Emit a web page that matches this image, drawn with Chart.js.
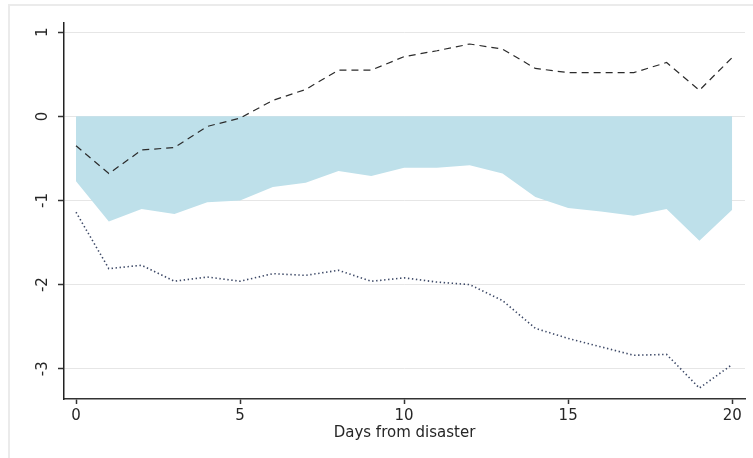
<!DOCTYPE html>
<html>
<head>
<meta charset="utf-8">
<script src="https://cdn.jsdelivr.net/npm/chart.js@4/dist/chart.umd.min.js"></script>
<style>
  html, body { margin: 0; padding: 0; background: #ffffff; }
  #wrap { width: 753px; height: 458px; position: relative; }
</style>
</head>
<body>
<div id="wrap"><canvas id="c" width="753" height="458"></canvas></div>
<script>
// Days after the disaster
const days = [0, 1, 2, 3, 4, 5, 6, 7, 8, 9, 10, 11, 12, 13, 14, 15, 16, 17, 18, 19, 20];
// Point estimate (shaded area down from zero)
const estimate = [-0.77, -1.25, -1.10, -1.16, -1.02, -1.00, -0.84, -0.79, -0.65, -0.71, -0.61,
                  -0.61, -0.58, -0.68, -0.96, -1.09, -1.13, -1.18, -1.10, -1.48, -1.11];
// Upper confidence bound (dashed)
const upperBound = [-0.35, -0.68, -0.40, -0.37, -0.12, -0.02, 0.19, 0.32, 0.55, 0.55, 0.71,
                    0.78, 0.86, 0.80, 0.57, 0.52, 0.52, 0.52, 0.64, 0.31, 0.70];
// Lower confidence bound (dotted)
const lowerBound = [-1.14, -1.81, -1.77, -1.96, -1.91, -1.96, -1.87, -1.89, -1.83, -1.96, -1.92,
                    -1.97, -2.00, -2.19, -2.52, -2.64, -2.74, -2.84, -2.83, -3.23, -2.95];
// Axis ticks
const xTicks = [0, 5, 10, 15, 20];
const yTicks = [-3, -2, -1, 0, 1];
const xTitle = 'Days from disaster';

const pts = arr => days.map((d, i) => ({ x: d, y: arr[i] }));
const FONT = 'DejaVu Sans';
const TEXT = '#262626';

// light frame around the graph region
const framePlugin = {
  id: 'frame',
  beforeDraw(chart) {
    const ctx = chart.ctx;
    ctx.save();
    ctx.strokeStyle = '#ebebeb';
    ctx.lineWidth = 2;
    ctx.beginPath();
    ctx.moveTo(9, chart.height);
    ctx.lineTo(9, 5);
    ctx.lineTo(chart.width, 5);
    ctx.stroke();
    ctx.restore();
  }
};

new Chart(document.getElementById('c'), {
  type: 'line',
  data: {
    datasets: [
      {
        data: pts(upperBound),
        borderColor: '#2b2b2b',
        borderWidth: 1.2,
        borderDash: [7, 5],
        pointRadius: 0,
        fill: false,
        tension: 0,
        order: 1
      },
      {
        data: pts(lowerBound),
        borderColor: '#3c4866',
        borderWidth: 1.6,
        borderDash: [1.4, 2.6],
        pointRadius: 0,
        fill: false,
        tension: 0,
        order: 2
      },
      {
        data: pts(estimate),
        borderColor: 'rgba(0,0,0,0)',
        borderWidth: 0,
        backgroundColor: 'rgb(190,224,234)',
        pointRadius: 0,
        fill: { value: 0 },
        tension: 0,
        order: 3
      }
    ]
  },
  options: {
    responsive: false,
    animation: false,
    events: [],
    layout: { padding: { left: 0, right: 8, top: 23, bottom: 0 } },
    plugins: {
      legend: { display: false },
      tooltip: { enabled: false },
      filler: { propagate: false }
    },
    scales: {
      x: {
        type: 'linear',
        min: -0.366,
        max: 20.39,
        afterBuildTicks: s => { s.ticks = xTicks.map(v => ({ value: v })); },
        afterFit: s => { s.height = 59; },
        ticks: {
          font: { family: FONT, size: 15 },
          color: TEXT,
          padding: 3,
          maxRotation: 0,
          minRotation: 0
        },
        grid: {
          drawOnChartArea: false,
          drawTicks: true,
          tickLength: 5,
          tickColor: '#333333',
          tickWidth: 1.5
        },
        border: { display: true, color: '#333333', width: 1.5 },
        title: {
          display: true,
          text: xTitle,
          font: { family: FONT, size: 15 },
          color: TEXT,
          padding: { top: 0, bottom: 16 }
        }
      },
      y: {
        type: 'linear',
        min: -3.36,
        max: 1.11,
        afterBuildTicks: s => { s.ticks = yTicks.map(v => ({ value: v })); },
        afterFit: s => { s.width = 64; },
        ticks: {
          font: { family: FONT, size: 15 },
          color: TEXT,
          padding: 7,
          minRotation: 90,
          maxRotation: 90,
          crossAlign: 'center'
        },
        grid: {
          drawOnChartArea: true,
          color: '#e6e6e6',
          lineWidth: 1,
          drawTicks: true,
          tickLength: 6,
          tickColor: '#333333',
          tickWidth: 1.5
        },
        border: { display: true, color: '#222222', width: 1.5 }
      }
    }
  },
  plugins: [framePlugin]
});
</script>
</body>
</html>
